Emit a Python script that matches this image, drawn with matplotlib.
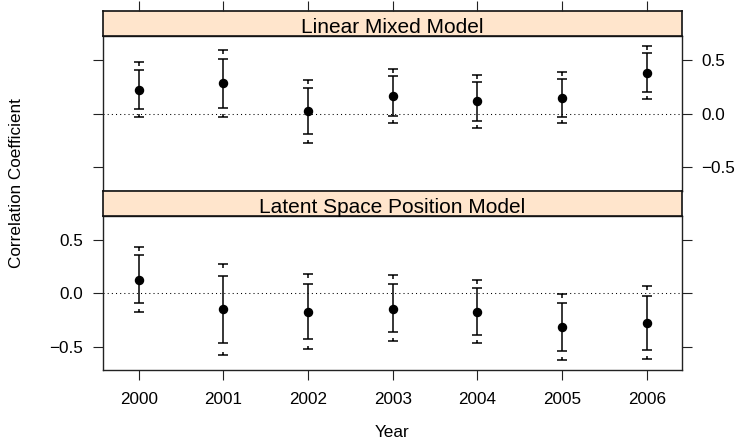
import numpy as np
import matplotlib
matplotlib.use("Agg")
import matplotlib.pyplot as plt
from matplotlib.path import Path

plt.rcParams['font.family'] = ['Liberation Sans', 'DejaVu Sans']

years = [2000, 2001, 2002, 2003, 2004, 2005, 2006]

# Linear Mixed Model: estimate, inner interval, outer interval
lmm_est = [0.224, 0.286, 0.022, 0.165, 0.116, 0.150, 0.383]
lmm_in_lo = [0.040, 0.053, -0.193, -0.019, -0.065, -0.028, 0.203]
lmm_in_hi = [0.410, 0.511, 0.243, 0.352, 0.296, 0.327, 0.567]
lmm_out_lo = [-0.034, -0.034, -0.271, -0.087, -0.131, -0.087, 0.137]
lmm_out_hi = [0.480, 0.598, 0.315, 0.420, 0.359, 0.390, 0.633]

# Latent Space Position Model
lsp_est = [0.127, -0.150, -0.175, -0.144, -0.172, -0.321, -0.278]
lsp_in_lo = [-0.091, -0.465, -0.430, -0.368, -0.390, -0.546, -0.530]
lsp_in_hi = [0.355, 0.164, 0.087, 0.084, 0.052, -0.093, -0.028]
lsp_out_lo = [-0.172, -0.577, -0.527, -0.452, -0.471, -0.626, -0.617]
lsp_out_hi = [0.430, 0.277, 0.180, 0.168, 0.121, -0.007, 0.065]

ytick_vals = [-0.5, 0.0, 0.5]
ytick_labels = ['\u22120.5', '0.0', '0.5']

strip_color = '#ffe5cc'

# cap markers with a short stub pointing toward the estimate
top_cap = Path([(-1, 0), (1, 0), (0, 0), (0, -0.7)],
               [Path.MOVETO, Path.LINETO, Path.MOVETO, Path.LINETO])
bot_cap = Path([(-1, 0), (1, 0), (0, 0), (0, 0.7)],
               [Path.MOVETO, Path.LINETO, Path.MOVETO, Path.LINETO])

fig = plt.figure(figsize=(7.38, 4.44), dpi=100)

W, H = 738.0, 444.0
left, right = 102.7, 681.7


def fbox(x0, y0, x1, y1):
    # pixel box (top-left origin) -> figure fraction rect
    return [x0 / W, 1 - y1 / H, (x1 - x0) / W, (y1 - y0) / H]


def draw_panel(ax, est, in_lo, in_hi, out_lo, out_hi):
    ax.axhline(0, color='black', lw=0.75, ls=(0, (1, 3)), zorder=1)
    est = np.array(est)
    yerr = [est - np.array(in_lo), np.array(in_hi) - est]
    ax.errorbar(years, est, yerr=yerr, fmt='o', color='black', ms=5.8,
                elinewidth=1.1, capsize=3.6, capthick=1.1, zorder=3)
    ax.plot(years, out_hi, ls='none', marker=top_cap, ms=7.2,
            mec='black', mfc='none', mew=1.1, zorder=3)
    ax.plot(years, out_lo, ls='none', marker=bot_cap, ms=7.2,
            mec='black', mfc='none', mew=1.1, zorder=3)
    ax.set_xlim(1999.575, 2006.413)
    ax.set_ylim(-0.72, 0.725)
    ax.set_xticks(years)
    ax.set_yticks(ytick_vals)
    for s in ax.spines.values():
        s.set_linewidth(1.0)
        s.set_color('#222222')
    ax.tick_params(direction='out', length=7.2, width=0.8, color='#222222',
                   labelsize=12.3, pad=7)
    ax.tick_params(axis='x', pad=8.5)


def draw_strip(rect, title):
    sax = fig.add_axes(rect)
    sax.set_facecolor(strip_color)
    sax.set_xticks([])
    sax.set_yticks([])
    for s in sax.spines.values():
        s.set_linewidth(1.2)
        s.set_color('#111111')
    sax.text(0.5, 0.42, title, transform=sax.transAxes, ha='center',
             va='center_baseline', fontsize=15)
    return sax


# top panel
ax1 = fig.add_axes(fbox(left, 36, right, 190.7))
draw_panel(ax1, lmm_est, lmm_in_lo, lmm_in_hi, lmm_out_lo, lmm_out_hi)
ax1.tick_params(axis='y', left=True, right=True, labelleft=False, labelright=True)
ax1.set_yticklabels(ytick_labels)
ax1.tick_params(axis='x', bottom=False, labelbottom=False)
draw_strip(fbox(left, 11, right, 36), 'Linear Mixed Model')

# top ticks sitting above the top strip
tax = fig.add_axes(fbox(left, 11, right, 36), frameon=False)
tax.set_xlim(ax1.get_xlim())
tax.set_xticks(years)
tax.set_yticks([])
tax.tick_params(axis='x', direction='out', length=7.2, width=0.8,
                color='#222222', top=True, bottom=False,
                labeltop=False, labelbottom=False)
tax.patch.set_visible(False)

# bottom panel
ax2 = fig.add_axes(fbox(left, 216, right, 370))
draw_panel(ax2, lsp_est, lsp_in_lo, lsp_in_hi, lsp_out_lo, lsp_out_hi)
ax2.tick_params(axis='y', left=True, right=True, labelleft=True, labelright=False)
ax2.set_yticklabels(ytick_labels)
ax2.set_xticklabels([str(y) for y in years])
draw_strip(fbox(left, 190.7, right, 216), 'Latent Space Position Model')

fig.text(17 / W, 1 - 183 / H, 'Correlation Coefficient', rotation=90,
         ha='center', va='center', fontsize=12.3)
fig.text((left + right) / 2 / W, 1 - 432 / H, 'Year', ha='center',
         va='center', fontsize=12.3)

fig.savefig('out.png', dpi=100)
